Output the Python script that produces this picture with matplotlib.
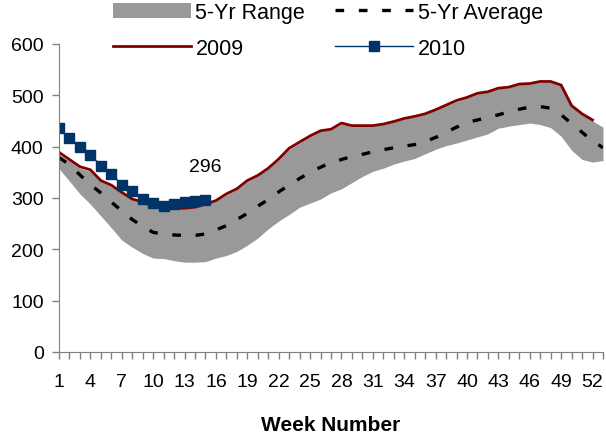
import numpy as np
import matplotlib
matplotlib.use('Agg')
import matplotlib.pyplot as plt
from matplotlib.patches import Patch
from matplotlib.lines import Line2D

plt.rcParams['font.family'] = ['Liberation Sans', 'DejaVu Sans']

# weeks 1..53 for the 5-yr stats, 1..52 for 2009, 1..15 for 2010
weeks = np.arange(1, 54)

range_low = [357, 333, 308, 288, 265, 242, 218, 204, 192, 183, 182, 178, 175, 175, 176, 183,
             188, 196, 208, 222, 240, 255, 268, 282, 290, 298, 310, 318, 330, 342, 352, 358,
             366, 372, 377, 386, 395, 402, 407, 413, 419, 425, 436, 440, 443, 446, 443, 437,
             420, 393, 375, 370, 373]
range_high = [385, 372, 358, 352, 332, 322, 309, 296, 290, 283, 279, 279, 279, 281, 287, 294,
              306, 317, 332, 343, 357, 374, 395, 407, 420, 430, 433, 444, 440, 440, 440, 443,
              448, 454, 458, 463, 471, 480, 488, 495, 503, 506, 513, 515, 521, 522, 526, 526,
              519, 479, 463, 450, 438]
avg_5yr = [379, 365, 345, 326, 310, 292, 275, 258, 245, 233, 230, 228, 227, 227, 230, 238,
           246, 258, 270, 284, 297, 312, 325, 338, 350, 360, 369, 375, 381, 385, 390, 394,
           398, 401, 404, 410, 418, 428, 438, 447, 452, 457, 462, 468, 473, 477, 478, 475,
           462, 445, 428, 411, 398]
y2009 = [389, 375, 361, 355, 334, 325, 311, 298, 292, 284, 280, 280, 280, 282, 288, 295,
         308, 318, 334, 344, 358, 376, 397, 409, 421, 431, 434, 446, 441, 441, 441, 444,
         449, 455, 459, 464, 472, 481, 490, 496, 504, 507, 514, 516, 522, 523, 527, 527,
         520, 480, 464, 452]
y2010 = [436, 417, 399, 384, 363, 347, 326, 314, 298, 290, 284, 288, 292, 294, 296]

fig = plt.figure(figsize=(6.06, 4.35), dpi=100)
ax = fig.add_axes([59/606, (435-353)/435, 544/606, 308/435])

ax.fill_between(weeks, range_low, range_high, color='#999999', lw=0)
ax.plot(weeks, avg_5yr, color='black', lw=2.4, dashes=(2.6, 4.4))
ax.plot(weeks[:len(y2009)], y2009, color='#800000', lw=2.0)
ax.plot(weeks[:len(y2010)], y2010, color='#003366', lw=1.0, marker='s', ms=7.5)

ax.annotate(str(y2010[-1]), xy=(weeks[len(y2010)-1], y2010[-1]), xytext=(0, 24),
            textcoords='offset points', ha='center', va='center', fontsize=14)

ax.set_xlim(1, 53)
ax.set_ylim(0, 600)
ax.set_yticks(range(0, 601, 100))
ax.set_xticks(weeks, minor=True)
ax.set_xticks(weeks[::3])
ax.tick_params(axis='both', labelsize=14, color='#808080', direction='out', length=5, width=1)
ax.tick_params(axis='x', which='minor', color='#808080', length=5, width=1)
ax.tick_params(axis='x', pad=10)
ax.tick_params(axis='y', pad=6)
for s in ['top', 'right']:
    ax.spines[s].set_visible(False)
for s in ['left', 'bottom']:
    ax.spines[s].set_color('#808080')
ax.set_xlabel('Week Number', fontsize=15, fontweight='bold', labelpad=18)

handles = [Patch(facecolor='#999999', edgecolor='none'),
           Line2D([], [], color='#800000', lw=2.0),
           Line2D([], [], color='black', lw=2.4, dashes=(2.6, 4.4)),
           Line2D([], [], color='#003366', lw=1.0, marker='s', ms=7.5)]
labels = ['5-Yr Range', '2009', '5-Yr Average', '2010']
fig.legend(handles, labels, ncol=2, loc='upper left', bbox_to_anchor=(113/606, 1 - 3/435),
           frameon=False, fontsize=15.5, handlelength=3.6, handletextpad=0.23,
           columnspacing=1.4, labelspacing=0.68, borderpad=0, borderaxespad=0)

fig.savefig('out.png', dpi=100)
